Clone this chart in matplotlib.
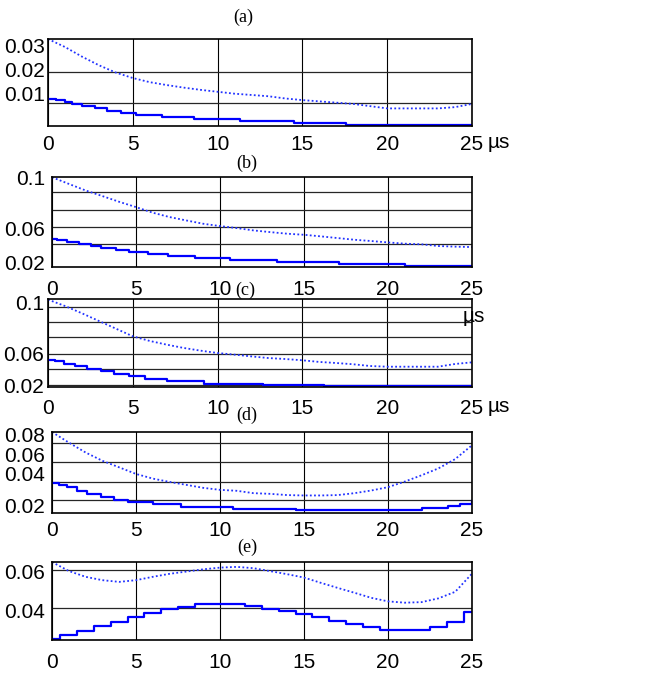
import matplotlib
matplotlib.use('Agg')
import matplotlib.pyplot as plt
from matplotlib.ticker import FixedLocator

W, H = 671, 673

# time samples (us)
t = list(range(26))

# ---- (a)
a_dot = [0.0300, 0.0275, 0.0245, 0.0218, 0.0195, 0.0178, 0.0165, 0.0156, 0.0148, 0.0141,
         0.0135, 0.0129, 0.0125, 0.0121, 0.0114, 0.0109, 0.0105, 0.0101, 0.0097, 0.0090,
         0.0083, 0.0083, 0.0083, 0.0083, 0.0087, 0.0097]
a_step_t = [0, 0.5, 1.0, 1.4, 2.0, 2.8, 3.5, 4.3, 5.2, 6.7, 8.6, 11.3, 14.5, 17.6, 25]
a_step = [0.0112, 0.0108, 0.0103, 0.0097, 0.0091, 0.0083, 0.0076, 0.0069, 0.0063, 0.0056,
          0.0050, 0.0045, 0.0038, 0.0031, 0.0031]

# ---- (b)
b_dot = [0.1000, 0.0937, 0.0875, 0.0822, 0.0768, 0.0718, 0.0665, 0.0624, 0.0592, 0.0561,
         0.0539, 0.0520, 0.0498, 0.0482, 0.0467, 0.0457, 0.0442, 0.0426, 0.0410, 0.0398,
         0.0385, 0.0373, 0.0367, 0.0351, 0.0345, 0.0341]
b_step_t = [0, 0.3, 0.9, 1.6, 2.3, 2.9, 3.8, 4.6, 5.7, 6.9, 8.5, 10.6, 13.4, 17.1, 21.0, 25]
b_step = [0.0420, 0.0404, 0.0388, 0.0369, 0.0351, 0.0335, 0.0316, 0.0294, 0.0275, 0.0257,
          0.0238, 0.0222, 0.0200, 0.0181, 0.0162, 0.0162]

# ---- (c)
c_dot = [0.1076, 0.1010, 0.0935, 0.0856, 0.0777, 0.0698, 0.0650, 0.0612, 0.0578, 0.0550,
         0.0526, 0.0509, 0.0491, 0.0474, 0.0464, 0.0451, 0.0434, 0.0423, 0.0410, 0.0392,
         0.0385, 0.0385, 0.0385, 0.0385, 0.0413, 0.0430]
c_step_t = [0, 0.43, 0.92, 1.6, 2.3, 3.1, 3.9, 4.8, 5.7, 7.0, 9.2, 12.7, 16.3, 25]
c_step = [0.0451, 0.0440, 0.0413, 0.0389, 0.0365, 0.0337, 0.0310, 0.0286, 0.0258, 0.0234,
          0.0210, 0.0193, 0.0183, 0.0183]

# ---- (d)
d_dot = [0.0911, 0.0800, 0.0696, 0.0609, 0.0540, 0.0471, 0.0422, 0.0387, 0.0356, 0.0325,
         0.0304, 0.0294, 0.0269, 0.0262, 0.0249, 0.0245, 0.0245, 0.0249, 0.0269, 0.0297,
         0.0332, 0.0391, 0.0457, 0.0529, 0.0627, 0.0772]
d_step_t = [0, 0.4, 0.9, 1.5, 2.1, 2.9, 3.7, 4.5, 6.0, 7.7, 10.8, 14.5, 22.0, 23.6, 24.3, 25]
d_step = [0.0373, 0.0356, 0.0332, 0.0297, 0.0262, 0.0228, 0.0200, 0.0172, 0.0155, 0.0124,
          0.0106, 0.0089, 0.0113, 0.0131, 0.0155, 0.0183]

# ---- (e)
e_dot = [0.0644, 0.0596, 0.0565, 0.0547, 0.0538, 0.0547, 0.0565, 0.0581, 0.0593, 0.0605,
         0.0614, 0.0618, 0.0611, 0.0595, 0.0579, 0.0561, 0.0533, 0.0506, 0.0480, 0.0453,
         0.0434, 0.0427, 0.0430, 0.0450, 0.0485, 0.0582]
e_solid = [0.0234, 0.0255, 0.0278, 0.0303, 0.0326, 0.0349, 0.0373, 0.0393, 0.0405, 0.0418,
           0.0418, 0.0418, 0.0411, 0.0396, 0.0382, 0.0366, 0.0349, 0.0331, 0.0313, 0.0296,
           0.0281, 0.0281, 0.0281, 0.0296, 0.0326, 0.0379]

xticks = [0, 5, 10, 15, 20, 25]

plt.rcParams['font.family'] = ['Liberation Sans', 'DejaVu Sans']
plt.rcParams['font.size'] = 15

fig = plt.figure(figsize=(W / 100, H / 100), dpi=100)


def axes_px(left, top, right, bottom):
    return fig.add_axes([left / W, 1 - bottom / H, (right - left) / W, (bottom - top) / H])


def setup(ax, ylim, grid_y, label_y, labels, xpad, ypad):
    ax.set_xlim(0, 25)
    ax.set_ylim(*ylim)
    ax.set_xticks(xticks)
    ax.set_xticklabels(['0', '5', '10', '15', '20', '25'])
    ax.xaxis.grid(True, color='black', lw=0.8)
    ax.set_yticks(label_y)
    ax.set_yticklabels(labels)
    ax.yaxis.set_minor_locator(FixedLocator(grid_y))
    ax.yaxis.grid(True, which='minor', color='0.15', lw=0.9)
    ax.tick_params(which='both', length=0)
    ax.tick_params(axis='x', pad=xpad)
    ax.tick_params(axis='y', pad=ypad)
    for s in ax.spines.values():
        s.set_linewidth(1.2)
        s.set_color('black')


def draw(ax, dot, step_t, step, mid=False):
    ax.plot(t, dot, color='#2233ff', lw=1.3, ls=(0, (1, 1.3)))
    ax.plot(step_t, step, color='#0000ff', lw=1.6,
            drawstyle='steps-mid' if mid else 'steps-post')


ax_a = axes_px(48, 39, 472, 126)
draw(ax_a, a_dot, a_step_t, a_step)
setup(ax_a, (0.0028, 0.03), [0.0197, 0.01], [0.0279, 0.0206, 0.0131],
      ['0.03', '0.02', '0.01'], 6.8, 2)

ax_b = axes_px(52, 177, 472, 267)
draw(ax_b, b_dot, b_step_t, b_step)
setup(ax_b, (0.0153, 0.1002), [0.0859, 0.0693, 0.0529, 0.0366, 0.02], [0.1, 0.0514, 0.02],
      ['0.1', '0.06', '0.02'], 9.7, 5)

ax_c = axes_px(48, 299, 472, 387)
draw(ax_c, c_dot, c_step_t, c_step)
setup(ax_c, (0.0176, 0.1082), [0.1, 0.0846, 0.0688, 0.0519, 0.0365, 0.02],
      [0.1041, 0.0526, 0.0193], ['0.1', '0.06', '0.02'], 9, 3)

ax_d = axes_px(52, 432, 472, 513)
draw(ax_d, d_dot, d_step_t, d_step)
setup(ax_d, (0.0061, 0.0911), [0.08, 0.0592, 0.0391, 0.02], [0.0887, 0.0679, 0.0471, 0.0138],
      ['0.08', '0.06', '0.04', '0.02'], 5.4, 5)

ax_e = axes_px(52, 562, 472, 640)
draw(ax_e, e_dot, t, e_solid, mid=True)
setup(ax_e, (0.0228, 0.0644), [0.06, 0.04], [0.0593, 0.0384], ['0.06', '0.04'], 9, 5)

# "µs" unit labels next to the last x tick of (a), (b), (c)
fig.text(488 / W, 1 - 143 / H, 'µs', ha='left', va='center')
fig.text(474 / W, 1 - 317 / H, 'µs', ha='center', va='center')
fig.text(488 / W, 1 - 407 / H, 'µs', ha='left', va='center')

# panel captions
for lab, x, y in [('(a)', 243, 17), ('(b)', 247, 163), ('(c)', 245, 290),
                  ('(d)', 247, 415), ('(e)', 247, 547)]:
    fig.text(x / W, 1 - y / H, lab, ha='center', va='center',
             family='Liberation Serif', fontsize=13)

fig.savefig('out.png', dpi=100)
